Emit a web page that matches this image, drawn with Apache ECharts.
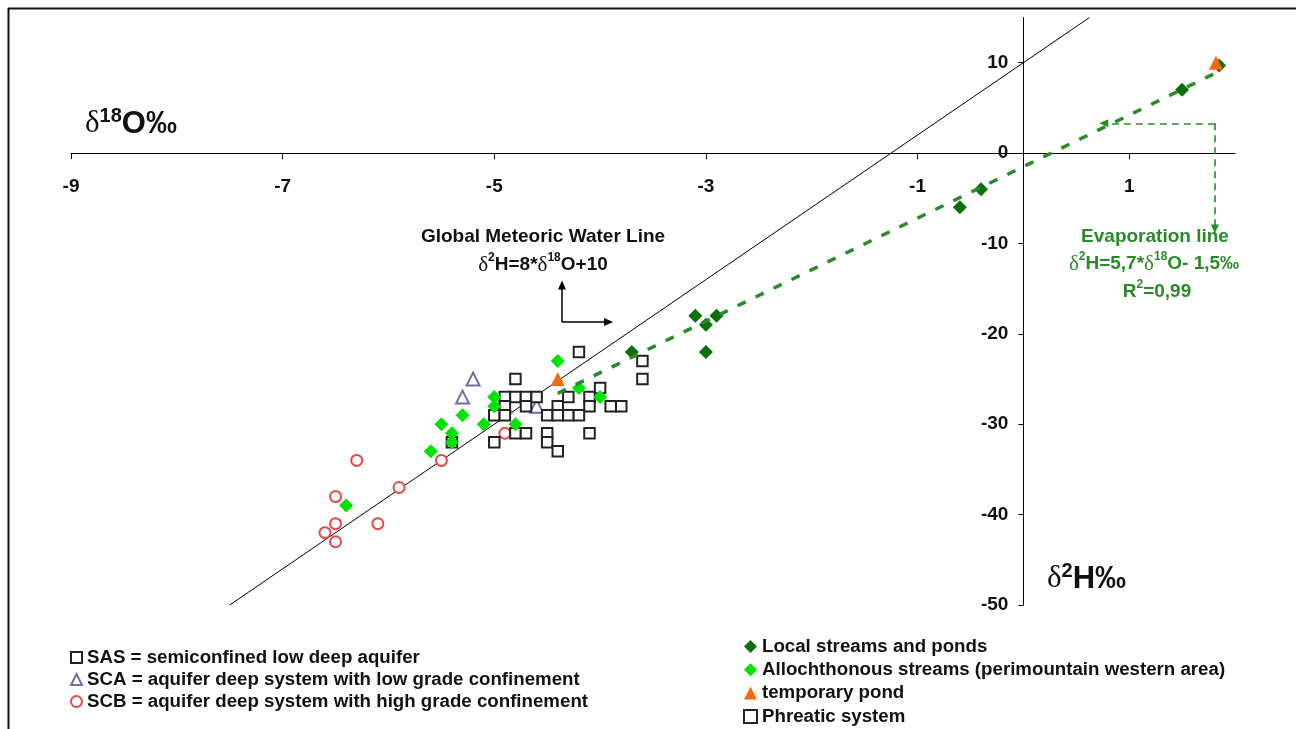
<!DOCTYPE html>
<html>
<head>
<meta charset="utf-8">
<script src="https://cdn.jsdelivr.net/npm/echarts@6/dist/echarts.min.js"></script>
<style>
  html, body { margin: 0; padding: 0; background: #fff; }
  #chart { width: 1296px; height: 729px; }
</style>
</head>
<body>
<div id="chart"></div>
<script>
// Axis tick values
const xTicks = [-9, -7, -5, -3, -1, 1];
const yTicks = [-50, -40, -30, -20, -10, 0, 10];

// Samples: [δ18O ‰, δ2H ‰]
const sasPoints = [
  [-4.8, -25], [-4.9, -27], [-4.8, -27], [-4.7, -27], [-4.6, -27],
  [-4.9, -28], [-4.7, -28], [-5.0, -29], [-4.9, -29], [-4.5, -29],
  [-4.8, -31], [-4.7, -31], [-4.5, -31], [-5.0, -32], [-4.5, -32], [-5.4, -32]
];
const scaPoints = [[-5.2, -25], [-5.3, -27], [-4.6, -28], [-4.9, -28]];
const scbPoints = [
  [-6.3, -34], [-5.5, -34], [-5.9, -37], [-6.5, -38], [-6.5, -41],
  [-6.1, -41], [-6.6, -42], [-6.5, -43], [-4.9, -31]
];
const localPoints = [
  [-3.7, -22], [-3.1, -18], [-3.0, -19], [-2.9, -18], [-3.0, -22],
  [-0.6, -6], [-0.4, -4], [1.5, 7], [1.85, 9.7]
];
const allochPoints = [
  [-4.4, -23], [-5.0, -27], [-5.0, -28], [-5.3, -29], [-5.5, -30],
  [-5.1, -30], [-4.8, -30], [-5.4, -31], [-5.4, -32], [-5.6, -33],
  [-4.2, -26], [-4.0, -27], [-6.4, -39]
];
const pondPoints = [[-4.4, -25], [1.82, 10]];
const phreaticPoints = [
  [-4.2, -22], [-3.6, -23], [-3.6, -25], [-4.0, -26], [-4.3, -27],
  [-4.1, -27], [-4.4, -28], [-4.1, -28], [-3.9, -28], [-3.8, -28],
  [-4.4, -29], [-4.3, -29], [-4.2, -29], [-4.1, -31], [-4.4, -33]
];

// Reference lines: δ2H = slope * δ18O + intercept
const gmwl = { slope: 8, intercept: 10, from: -7.5, to: 0.625 };
const evapLine = { slope: 5.7, intercept: -1.5, from: -4.4, to: 1.85 };

const seriesNames = {
  sas: 'SAS = semiconfined low deep aquifer',
  sca: 'SCA = aquifer deep system with low grade confinement',
  scb: 'SCB = aquifer deep system with high grade confinement',
  local: 'Local streams and ponds',
  alloch: 'Allochthonous streams (perimountain western area)',
  pond: 'temporary pond',
  phreatic: 'Phreatic system'
};

function linePoints(l) {
  return [[l.from, l.slope * l.from + l.intercept], [l.to, l.slope * l.to + l.intercept]];
}

const GREEN = '#2a8a2a';
const FONT = 'Liberation Sans, Arial, sans-serif';
const SERIF = 'Liberation Serif, Times New Roman, serif';

// Plot area and axis extents; the axes cross at the origin
const GRID = { left: 71, right: 61, top: 17.5, bottom: 124 };
const X_EXT = [-9, 2];
const Y_EXT = [-50, 15];
const gridW = 1296 - GRID.left - GRID.right;
const gridH = 729 - GRID.top - GRID.bottom;
const yAxisOffset = -(0 - X_EXT[0]) / (X_EXT[1] - X_EXT[0]) * gridW;
const xAxisOffset = -(0 - Y_EXT[0]) / (Y_EXT[1] - Y_EXT[0]) * gridH;

const chart = echarts.init(document.getElementById('chart'), null, { renderer: 'canvas' });

function eqRich(color, size) {
  return {
    b: { fontFamily: FONT, fontWeight: 'bold', fontSize: size, fill: color, color: color, lineHeight: 26 },
    d: { fontFamily: SERIF, fontWeight: 'normal', fontSize: size + 2, fill: color, color: color, lineHeight: 26 },
    s: { fontFamily: FONT, fontWeight: 'bold', fontSize: Math.round(size * 0.64), fill: color, color: color,
         lineHeight: 14, verticalAlign: 'top' }
  };
}

function titleRich() {
  return {
    b: { fontFamily: FONT, fontWeight: 'bold', fontSize: 31, fill: '#111', lineHeight: 36 },
    d: { fontFamily: SERIF, fontSize: 31, fill: '#111', lineHeight: 36 },
    s: { fontFamily: FONT, fontWeight: 'bold', fontSize: 20, fill: '#111', lineHeight: 20, verticalAlign: 'top' }
  };
}

const legendText = { fontFamily: FONT, fontWeight: 'bold', fontSize: 18.7, lineHeight: 19, color: '#111' };

const option = {
  animation: false,
  backgroundColor: '#fff',
  grid: { left: GRID.left, right: GRID.right, top: GRID.top, bottom: GRID.bottom, containLabel: false, outerBoundsMode: 'none' },
  xAxis: {
    type: 'value', min: X_EXT[0], max: X_EXT[1], position: 'bottom', offset: xAxisOffset,
    axisLine: { onZero: false, lineStyle: { color: '#000', width: 1 } },
    axisTick: { show: true, length: 6, customValues: xTicks, lineStyle: { color: '#000' } },
    axisLabel: { customValues: xTicks, margin: 24, color: '#111', fontFamily: FONT, fontWeight: 'bold', fontSize: 19 },
    splitLine: { show: false }
  },
  yAxis: {
    type: 'value', min: Y_EXT[0], max: Y_EXT[1], position: 'left', offset: yAxisOffset,
    axisLine: { onZero: false, lineStyle: { color: '#000', width: 1 } },
    axisTick: { show: true, length: 5, customValues: yTicks, lineStyle: { color: '#000' } },
    axisLabel: { customValues: yTicks, margin: 15, color: '#111', fontFamily: FONT, fontWeight: 'bold', fontSize: 19 },
    splitLine: { show: false }
  },
  legend: [
    {
      left: 65, top: 643, height: 90, orient: 'vertical', itemGap: 3, itemWidth: 11, itemHeight: 11,
      selectedMode: false, textStyle: legendText,
      data: [seriesNames.sas, seriesNames.sca, seriesNames.scb]
    },
    {
      left: 738, top: 632, height: 110, orient: 'vertical', itemGap: 4.3, itemWidth: 13, itemHeight: 13,
      selectedMode: false, textStyle: legendText,
      data: [seriesNames.local, seriesNames.alloch, seriesNames.pond, seriesNames.phreatic]
    }
  ],
  series: [
    {
      name: 'GMWL', type: 'line', data: linePoints(gmwl), symbol: 'none', silent: true, z: 1,
      lineStyle: { color: '#000', width: 1 },
      markLine: {
        silent: true, animation: false, symbol: ['none', 'triangle'], symbolSize: [8, 9],
        label: { show: false },
        lineStyle: { color: '#000', width: 1.5, type: 'solid' },
        data: [
          [{ coord: [-4.36, -18.7] }, { coord: [-4.36, -14.6] }],
          [{ coord: [-4.36, -18.7] }, { coord: [-3.92, -18.7] }]
        ]
      }
    },
    {
      name: seriesNames.scb, type: 'scatter', data: scbPoints, symbol: 'emptyCircle', symbolSize: 11, z: 2,
      itemStyle: { color: '#e8474a', borderWidth: 1.2, opacity: 1 }
    },
    {
      name: seriesNames.sca, type: 'scatter', data: scaPoints, symbol: 'emptyTriangle', symbolSize: 13, z: 2,
      itemStyle: { color: '#7070a4', borderWidth: 1.2, opacity: 1 }
    },
    {
      name: seriesNames.sas, type: 'scatter', data: sasPoints, symbol: 'emptyRect', symbolSize: 10.5, z: 3,
      itemStyle: { color: '#222', borderWidth: 1.2, opacity: 1 }
    },
    {
      name: seriesNames.phreatic, type: 'scatter', data: phreaticPoints, symbol: 'emptyRect', symbolSize: 10.5, z: 3,
      itemStyle: { color: '#222', borderWidth: 1.2, opacity: 1 }
    },
    {
      name: seriesNames.local, type: 'scatter', data: localPoints, symbol: 'diamond', symbolSize: 14, z: 4,
      itemStyle: { color: '#0a700a', opacity: 1 }
    },
    {
      name: seriesNames.alloch, type: 'scatter', data: allochPoints, symbol: 'diamond', symbolSize: 14, z: 4,
      itemStyle: { color: '#00e400', opacity: 1 }
    },
    {
      name: 'Evaporation', type: 'line', data: linePoints(evapLine), symbol: 'none', silent: true, z: 5,
      lineStyle: { color: GREEN, width: 3.5, type: [9, 11], cap: 'butt' },
      markLine: {
        silent: true, animation: false, symbol: ['none', 'triangle'], symbolSize: [8, 9],
        label: { show: false },
        lineStyle: { color: GREEN, width: 1.6, type: [7, 5] },
        data: [
          [{ coord: [1.81, 3.3] }, { coord: [0.76, 3.3] }],
          [{ coord: [1.81, 3.3] }, { coord: [1.81, -8.4] }]
        ]
      }
    },
    {
      name: seriesNames.pond, type: 'scatter', data: pondPoints, symbol: 'triangle', symbolSize: 14, z: 6,
      itemStyle: { color: '#f56a10', opacity: 1 }
    }
  ],
  graphic: [
    // page frame
    { type: 'line', shape: { x1: 8, y1: 8.5, x2: 1296, y2: 8.5 }, style: { stroke: '#111', lineWidth: 2 }, silent: true },
    { type: 'line', shape: { x1: 8.5, y1: 8, x2: 8.5, y2: 729 }, style: { stroke: '#111', lineWidth: 2 }, silent: true },
    // axis titles
    {
      type: 'text', x: 85, y: 124, silent: true,
      style: { text: '{d|δ}{s|18}{b|O‰}', verticalAlign: 'middle', align: 'left', rich: titleRich() }
    },
    {
      type: 'text', x: 1047, y: 579, silent: true,
      style: { text: '{d|δ}{s|2}{b|H‰}', verticalAlign: 'middle', align: 'left', rich: titleRich() }
    },
    // GMWL annotation
    {
      type: 'text', x: 543, y: 237, silent: true,
      style: { text: 'Global Meteoric Water Line', align: 'center', verticalAlign: 'middle',
               font: 'bold 19px ' + FONT, fill: '#111' }
    },
    {
      type: 'text', x: 543, y: 265, silent: true,
      style: { text: '{d|δ}{s|2}{b|H=8*}{d|δ}{s|18}{b|O+10}', align: 'center', verticalAlign: 'middle',
               rich: eqRich('#111', 19) }
    },
    // Evaporation line annotation
    {
      type: 'text', x: 1155, y: 237, silent: true,
      style: { text: 'Evaporation line', align: 'center', verticalAlign: 'middle',
               font: 'bold 19px ' + FONT, fill: GREEN }
    },
    {
      type: 'text', x: 1154, y: 264, silent: true,
      style: { text: '{d|δ}{s|2}{b|H=5,7*}{d|δ}{s|18}{b|O- 1,5‰}', align: 'center', verticalAlign: 'middle',
               rich: eqRich(GREEN, 19) }
    },
    {
      type: 'text', x: 1157, y: 292, silent: true,
      style: { text: '{b|R}{s|2}{b|=0,99}', align: 'center', verticalAlign: 'middle',
               rich: eqRich(GREEN, 19) }
    }
  ]
};

chart.setOption(option);
</script>
</body>
</html>
